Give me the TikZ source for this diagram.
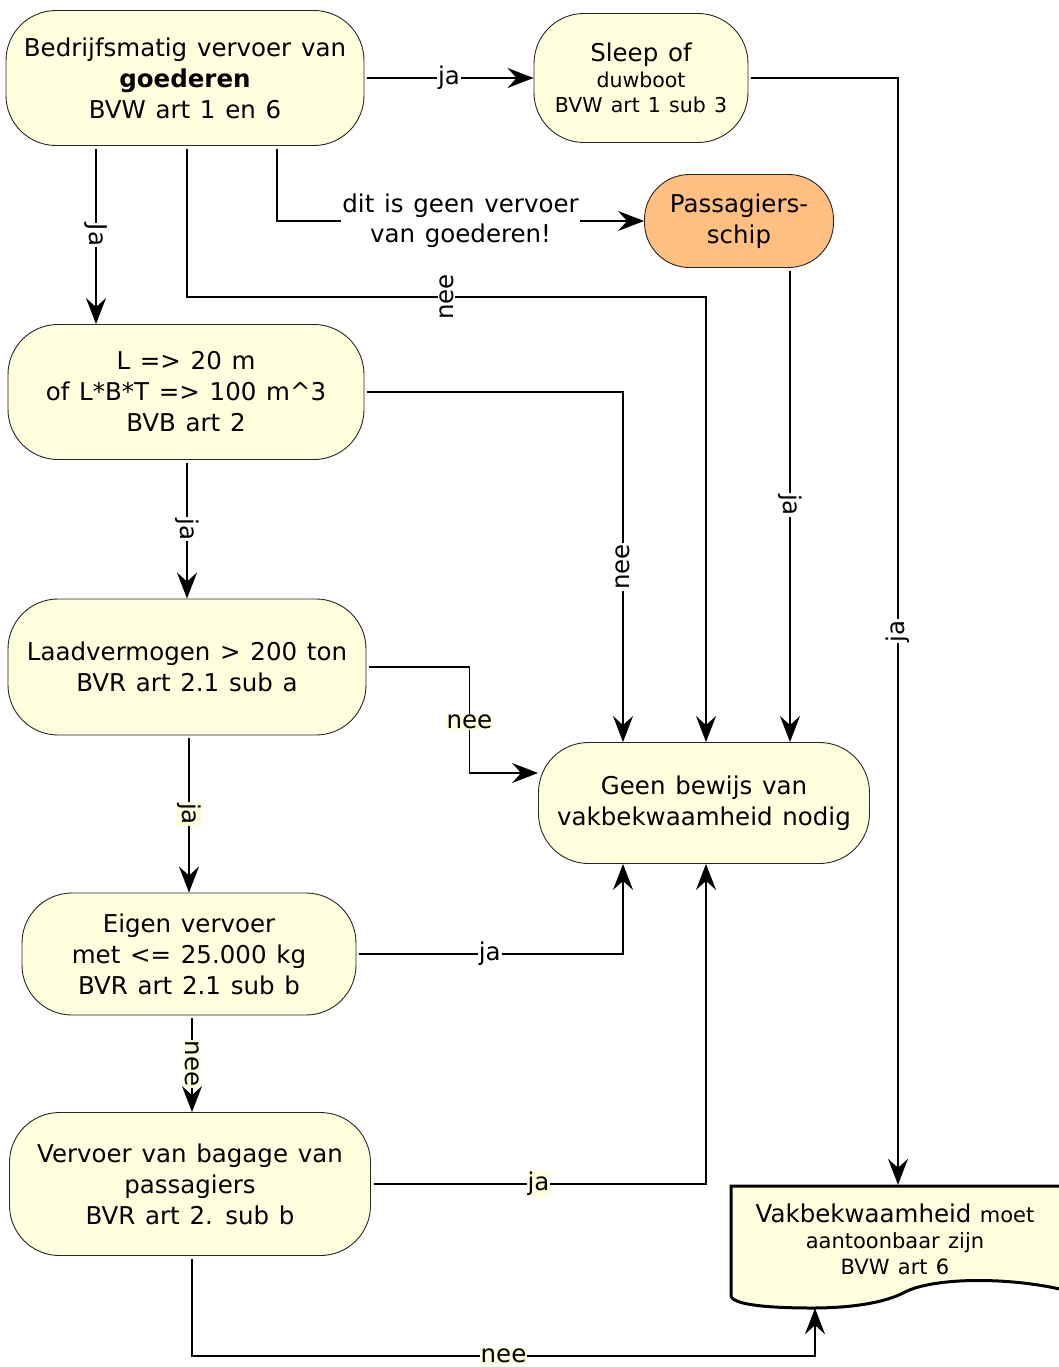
\documentclass[tikz,border=0pt]{standalone}
\usepackage{fontspec}
\setmainfont{DejaVu Sans}[WordSpace=1.25]
\usetikzlibrary{arrows.meta}

\definecolor{boxyellow}{RGB}{255,255,221}
\definecolor{boxorange}{RGB}{255,191,128}

\begin{document}
\begin{tikzpicture}[x=1pt,y=-1pt,
	box/.style={draw=black!85,fill=boxyellow,rounded corners=50pt,align=center,
		line width=0.9pt,inner sep=0pt,font=\fontsize{24.5}{31}\selectfont},
	arr/.style={line width=1.5pt,shorten <=3pt,-{Stealth[length=26pt,width=20pt,inset=9pt]}},
	lbl/.style={fill=white,inner sep=1pt,font=\fontsize{24.5}{30}\selectfont},
	lbly/.style={lbl,fill=boxyellow}]

		\useasboundingbox (0,0) rectangle (1059,1367);

		% vragen
		\node [box,minimum width=358,minimum height=135] (goods) at (185,78)
			{Bedrijfsmatig vervoer van\\\textbf{goederen}\\BVW art 1 en 6};
		\node [box,minimum width=214,minimum height=129,font=\fontsize{20.5}{25.5}\selectfont] (sleep) at (641,78)
			{\fontsize{24.5}{28}\selectfont Sleep of\\duwboot\\BVW art 1 sub 3};
		\node [box,fill=boxorange,rounded corners=45pt,minimum width=189,minimum height=93] (pass) at (739,221)
			{Passagiers-\\schip};
		\node [box,minimum width=356,minimum height=135] (lnode) at (186,392)
			{L => 20 m\\of L*B*T => 100 m\textasciicircum 3\\BVB art 2};
		\node [box,minimum width=358,minimum height=136] (laad) at (187,667)
			{Laadvermogen > 200 ton\\BVR art 2.1 sub a};
		\node [box,minimum width=331,minimum height=121] (geen) at (704,803)
			{Geen bewijs van\\vakbekwaamheid nodig};
		\node [box,minimum width=334,minimum height=122] (eigen) at (189,954)
			{Eigen vervoer\\met <= 25.000 kg\\BVR art 2.1 sub b};
		\node [box,minimum width=361,minimum height=143] (bagage) at (190,1184)
			{Vervoer van bagage van\\passagiers\\BVR art 2. sub b};

		% document
		\draw [line width=3pt,fill=boxyellow] (731,1186) -- (1064,1186) -- (1064,1290)
			.. controls (1010,1277) and (935,1277) .. (905,1292)
			.. controls (885,1303) and (850,1308) .. (812,1308)
			.. controls (770,1308) and (733,1305) .. (731,1296) -- cycle;
		\node [minimum width=328,minimum height=108,inner sep=0pt,align=center,
			font=\fontsize{21}{26}\selectfont] (doc) at (895,1239)
			{{\fontsize{24.5}{26}\selectfont Vakbekwaamheid} moet\\aantoonbaar zijn\\BVW art 6};

		% verbindingen
		\draw [arr] (goods.east) -- node [lbl] {ja} (sleep.west);
		\draw [arr] ([xshift=-89pt]goods.south) -- node [lbl,rotate=-90] {Ja} ([xshift=-90pt]lnode.north);
		\draw [arr] ([xshift=2pt]goods.south) -- ++(0,151) -| node [lbl,rotate=90,pos=0.25] {nee} ([xshift=2pt]geen.north);
		\draw [arr] ([xshift=92pt]goods.south) |- node [lbl,pos=0.75,align=center] {dit is geen vervoer\\van goederen!} (pass.west);
		\draw [arr] (sleep.east) -| node [lbl,rotate=90,pos=0.75] {ja} ([xshift=3pt]doc.north);
		\draw [arr] ([xshift=51pt]pass.south) -- node [lbl,rotate=-90] {ja} ([xshift=51pt]pass.south |- geen.north);
		\draw [arr] (lnode.east) -| node [lbl,rotate=90,pos=0.75] {nee} ([xshift=-81pt]geen.north);
		\draw [arr] ([xshift=1pt]lnode.south) -- node [lbl,rotate=-90] {ja} (laad.north);
		\draw [arr] (laad.east) -- ++(103,0) |- node [lbly,pos=0.26] {nee} ([yshift=30pt]geen.west);
		\draw [arr] ([xshift=2pt]laad.south) -- node [lbly,rotate=-90] {ja} (eigen.north);
		\draw [arr] (eigen.east) -| node [lbl,pos=0.25] {ja} ([xshift=-81pt]geen.south);
		\draw [arr] ([xshift=3pt]eigen.south) -- node [lbly,rotate=-90] {nee} ([xshift=2pt]bagage.north);
		\draw [arr] (bagage.east) -| node [lbly,pos=0.25] {ja} ([xshift=2pt]geen.south);
		\draw [arr] ([xshift=2pt]bagage.south) -- ++(0,100) -| node [lbly,pos=0.25] {nee} ([xshift=-80pt,yshift=-15pt]doc.south);

\end{tikzpicture}
\end{document}
